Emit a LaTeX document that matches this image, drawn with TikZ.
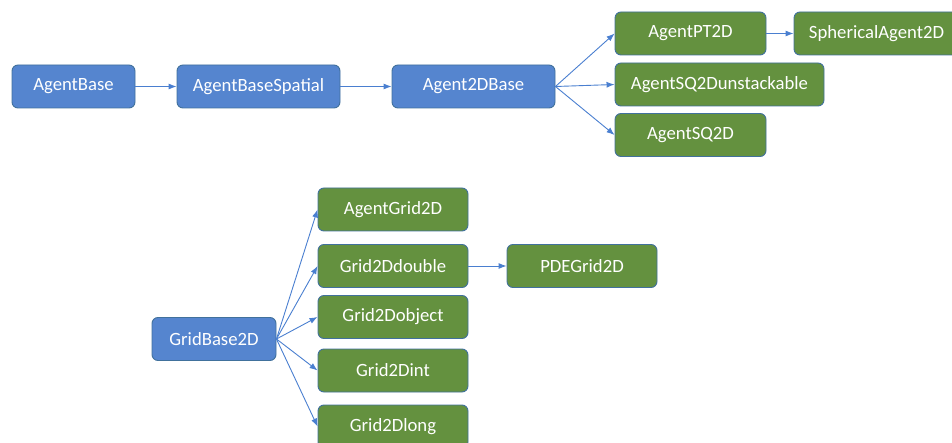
\documentclass[tikz,border=0pt]{standalone}
\usepackage{fontspec}
\setmainfont{Carlito}
\usetikzlibrary{arrows.meta}
\definecolor{baseblue}{HTML}{5585CF}
\definecolor{leafgreen}{HTML}{64913F}
\definecolor{edgeblue}{HTML}{41719C}
\definecolor{linkblue}{HTML}{4A7FD0}

\tikzset{
  cls/.style={draw=edgeblue, line width=0.9pt, rounded corners=6pt, text=white,
    font=\fontsize{18.7}{22}\selectfont, minimum height=43pt, inner sep=0pt},
  base/.style={cls, fill=baseblue},
  leaf/.style={cls, fill=leafgreen},
  inh/.style={draw=linkblue, line width=0.9pt, -{Latex[length=8pt,width=6pt]}}
}

\begin{document}
\begin{tikzpicture}[x=1pt,y=-1pt]
\useasboundingbox (0,0) rectangle (952,443);

% agent classes
\node[base, minimum width=123pt] (ab) at (73.5,86.5) {AgentBase};
\node[base, minimum width=163pt] (abs) at (258.5,86.5) {AgentBaseSpatial};
\node[base, minimum width=163pt] (a2d) at (473.5,86.5) {Agent2DBase};
\node[leaf, minimum width=151pt] (pt) at (690.5,33.5) {AgentPT2D};
\node[leaf, minimum width=165pt] (sph) at (876.5,33.5) {SphericalAgent2D};
\node[leaf, minimum width=209pt] (squ) at (719.5,84.5) {AgentSQ2Dunstackable};
\node[leaf, minimum width=151pt] (sq) at (690.5,135) {AgentSQ2D};

\draw[inh] (ab) to (abs);
\draw[inh] (abs) to (a2d);
\draw[inh] (a2d.east) to (pt.west);
\draw[inh] (a2d.east) to (squ.west);
\draw[inh] (a2d.east) to (sq.west);
\draw[inh] (pt) to (sph);

% grid classes
\node[base, minimum width=124pt] (gb) at (214,339) {GridBase2D};
\node[leaf, minimum width=150pt] (ag) at (393,209.5) {AgentGrid2D};
\node[leaf, minimum width=150pt] (gd) at (393,266) {Grid2Ddouble};
\node[leaf, minimum width=150pt] (go) at (393,317) {Grid2Dobject};
\node[leaf, minimum width=150pt] (gi) at (393,370.5) {Grid2Dint};
\node[leaf, minimum width=150pt] (gl) at (393,426.5) {Grid2Dlong};
\node[leaf, minimum width=150pt] (pde) at (582,266) {PDEGrid2D};

\draw[inh] (gb.east) to (ag.west);
\draw[inh] (gb.east) to (gd.west);
\draw[inh] (gb.east) to (go.west);
\draw[inh] (gb.east) to (gi.west);
\draw[inh] (gb.east) to (gl.west);
\draw[inh] (gd) to (pde);
\end{tikzpicture}
\end{document}
